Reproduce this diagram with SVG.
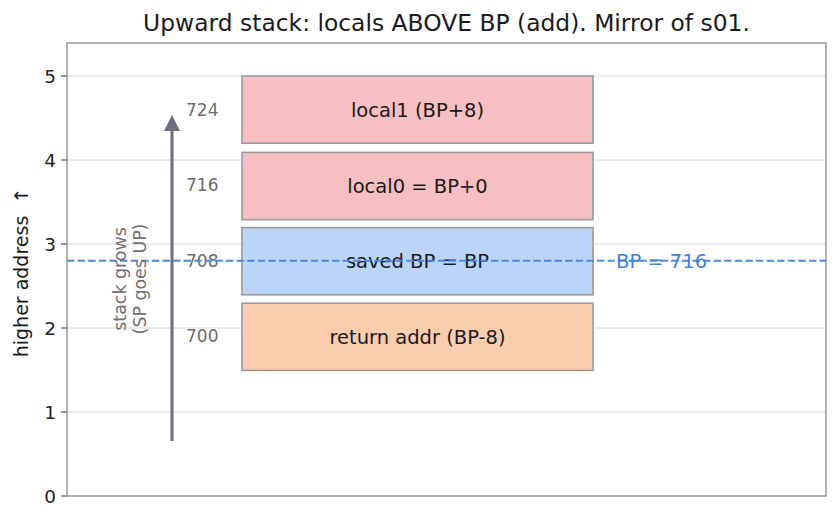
<svg xmlns="http://www.w3.org/2000/svg" width="840" height="521" viewBox="0 0 840 521">
<defs>
<style>
text{font-family:"DejaVu Sans","Liberation Sans",sans-serif;}
.grid{stroke:#d6d6d6;stroke-width:1;}
.tick{stroke:#555;stroke-width:1.2;}
.tl{font-size:18.5px;fill:#222;text-anchor:end;}
.box{stroke:#999;stroke-width:1.6;}
.lbl{font-size:19.5px;fill:#1a1a1a;text-anchor:middle;}
.addr{font-size:17px;fill:#6b6b6b;}
</style>
</defs>
<rect width="840" height="521" fill="#fff"/>
<text x="446.5" y="31" font-size="23.4" text-anchor="middle" fill="#1a1a1a">Upward stack: locals ABOVE BP (add). Mirror of s01.</text>
<g id="grid">
<line class="grid" x1="67" y1="76" x2="826" y2="76"/>
<line class="grid" x1="67" y1="160" x2="826" y2="160"/>
<line class="grid" x1="67" y1="244" x2="826" y2="244"/>
<line class="grid" x1="67" y1="328" x2="826" y2="328"/>
<line class="grid" x1="67" y1="412" x2="826" y2="412"/>
</g>
<g id="yaxis">
<line class="tick" x1="61" y1="76" x2="67" y2="76"/>
<line class="tick" x1="61" y1="160" x2="67" y2="160"/>
<line class="tick" x1="61" y1="244" x2="67" y2="244"/>
<line class="tick" x1="61" y1="328" x2="67" y2="328"/>
<line class="tick" x1="61" y1="412" x2="67" y2="412"/>
<line class="tick" x1="61" y1="496" x2="67" y2="496"/>
<text class="tl" x="56" y="82.5">5</text>
<text class="tl" x="56" y="166.5">4</text>
<text class="tl" x="56" y="250.5">3</text>
<text class="tl" x="56" y="334.5">2</text>
<text class="tl" x="56" y="418.5">1</text>
<text class="tl" x="56" y="502.5">0</text>
<text transform="translate(28,272.5) rotate(-90)" font-size="19" text-anchor="middle" fill="#1a1a1a">higher address&#160; ↑</text>
</g>
<g id="local1">
<rect class="box" x="242" y="76" width="351" height="67.2" fill="#f7bcbe" fill-opacity="0.95"/>
<text class="lbl" x="417.5" y="117">local1 (BP+8)</text>
</g>
<g id="local0">
<rect class="box" x="242" y="152.4" width="351" height="67.2" fill="#f7bcbe" fill-opacity="0.95"/>
<text class="lbl" x="417.5" y="193">local0 = BP+0</text>
</g>
<g id="savedbp">
<rect class="box" x="242" y="227.6" width="351" height="67.2" fill="#b8d2f7" fill-opacity="0.95"/>
<text class="lbl" x="417.5" y="268">saved BP = BP</text>
</g>
<g id="retaddr">
<rect class="box" x="242" y="303.2" width="351" height="67.2" fill="#fccaa9" fill-opacity="0.95"/>
<text class="lbl" x="417.5" y="344">return addr (BP-8)</text>
</g>
<g id="addresses">
<text class="addr" x="186" y="116">724</text>
<text class="addr" x="186" y="191">716</text>
<text class="addr" x="186" y="267">708</text>
<text class="addr" x="186" y="342">700</text>
</g>
<g id="connectors">
<line x1="172" y1="441" x2="172" y2="128" stroke="#6b6f7e" stroke-width="3"/>
<polygon points="172,115 164,131 180,131" fill="#6b6f7e"/>
<line x1="67" y1="260.8" x2="826" y2="260.8" stroke="#4a88e6" stroke-width="2" stroke-dasharray="7.4,3.2"/>
</g>
<g id="labels">
<text transform="translate(126,279) rotate(-90)" font-size="17.4" text-anchor="middle" fill="#707070">stack grows</text>
<text transform="translate(146,279) rotate(-90)" font-size="17.4" text-anchor="middle" fill="#707070">(SP goes UP)</text>
<text x="616" y="268" font-size="19.5" fill="#3f80e0">BP = 716</text>
</g>
<rect x="67" y="43" width="759" height="453" fill="none" stroke="#888" stroke-width="1.3"/>
</svg>
